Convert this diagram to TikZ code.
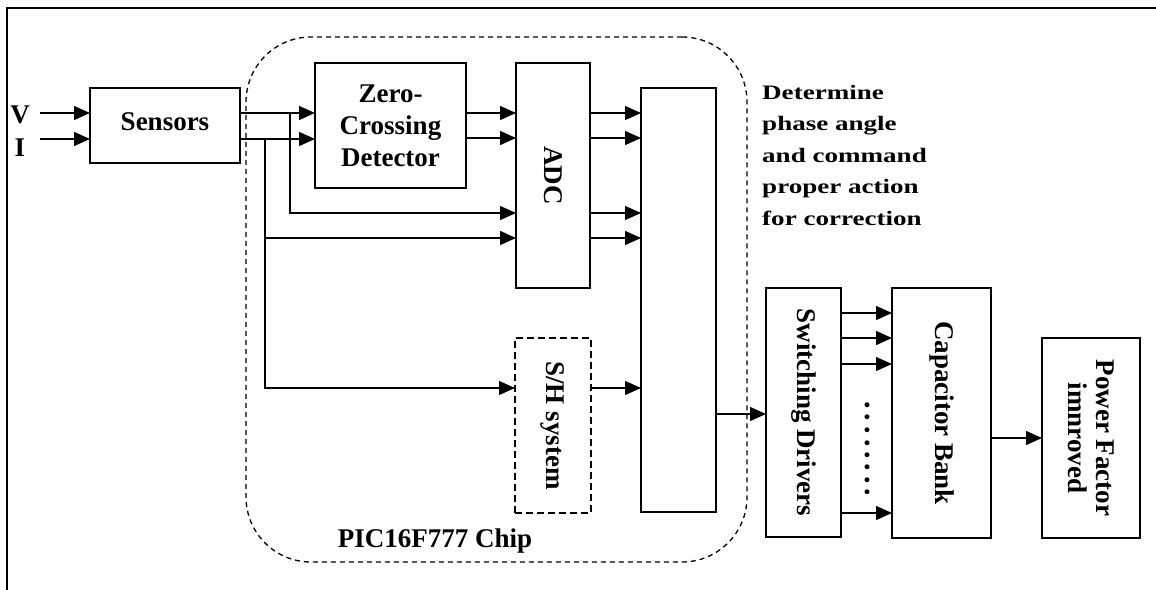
\documentclass[tikz,border=0pt]{standalone}
\usepackage{fontspec}
\setmainfont{Liberation Serif}
\newfontfamily\detfont{Liberation Serif}[FakeStretch=1.32]
\usetikzlibrary{arrows.meta}
\newcommand{\txtfont}{\fontsize{27}{32}\selectfont\bfseries}
\newcommand{\dtfont}{\detfont\fontsize{20.5}{31.5}\selectfont\bfseries}
\begin{document}
\begin{tikzpicture}[x=1pt,y=-1pt,
  box/.style={draw, line width=1.4pt, inner sep=0pt, outer sep=0pt, align=center, font=\txtfont},
  dbox/.style={box, dash pattern=on 7pt off 4pt, line width=2pt},
  rot/.style={rotate=-90, inner sep=0pt, align=center, font=\txtfont},
  lbl/.style={inner sep=0pt, font=\txtfont},
  arr/.style={line width=1.4pt, -{Triangle[length=16pt,width=14pt]}},
  ln/.style={line width=1.4pt},
  chip/.style={draw, line width=1.3pt, dash pattern=on 5pt off 4pt, rounded corners=65pt, inner sep=0pt, outer sep=0pt}
]
\useasboundingbox (0,0) rectangle (1156,589);
% frame
\draw[line width=2.4pt] (7,600) -- (7,8) -- (1170,8);
% chip outline
\node[chip, minimum width=501pt, minimum height=525pt] (chip) at (496.5,299.5) {};
\node[lbl] (chiplbl) at (435,541) {PIC16F777 Chip};
% blocks
\node[box, minimum width=150pt, minimum height=75pt] (sens) at (165,125.5) {\raisebox{7pt}{Sensors}};
\node[box, minimum width=151pt, minimum height=125pt] (zcd) at (390.5,125.5) {Zero-\\Crossing\\Detector};
\node[box, minimum width=74pt, minimum height=225pt] (adc) at (553,175.5) {};
\node[rot] (adct) at (adc) {ADC};
\node[box, minimum width=75pt, minimum height=424pt] (proc) at (678.5,300) {};
\node[dbox, minimum width=76pt, minimum height=175pt] (sh) at (553,425.5) {};
\node[rot] (sht) at (sh) {S/H system};
\node[box, minimum width=75pt, minimum height=249pt] (swd) at (803.5,412.5) {};
\node[rot] (swdt) at (swd) {Switching Drivers};
\node[box, minimum width=99pt, minimum height=250pt] (cap) at (941.5,413) {};
\node[rot] (capt) at (cap) {Capacitor Bank};
\node[box, minimum width=98pt, minimum height=200pt] (pf) at (1091,438) {};
\node[rot, font=\fontsize{27}{28}\selectfont\bfseries] (pft) at (pf) {Power Factor\\imnroved};
% text
\node[inner sep=0pt, font=\dtfont, anchor=west, align=left] (det) at (762,155) {Determine\\phase angle\\and command\\proper action\\for correction};
\node[lbl] (vl) at (20,115) {V};
\node[lbl] (il) at (20,148) {I};
\coordinate (vin) at (40,113);
\coordinate (iin) at (40,139);
\node[rot, font=\fontsize{30}{32}\selectfont\bfseries] (dots) at (867,449) {.\hspace{5pt}.\hspace{5pt}.\hspace{5pt}.\hspace{5pt}.\hspace{5pt}.\hspace{5pt}.\hspace{5pt}.};
% inputs
\draw[arr] (vin) -- (sens.west |- vin);
\draw[arr] (iin) -- (sens.west |- iin);
% sensors to zcd
\draw[arr] (sens.east |- 0,113) -- (zcd.west |- 0,113);
\draw[arr] (sens.east |- 0,139) -- (zcd.west |- 0,139);
% branches
\coordinate (b1) at (290,113);
\coordinate (b2) at (265,139);
\draw[arr] (b1) -- (290,213) -- (adc.west |- 0,213);
\draw[ln] (b2) -- (265,238);
\draw[arr] (265,238) -- (adc.west |- 0,238);
\draw[line width=2.6pt] (265,237) -- (265,389);
\draw[arr] (265,388) -- (sh.west |- 0,388);
% zcd to adc
\draw[arr] (zcd.east |- 0,113) -- (adc.west |- 0,113);
\draw[arr] (zcd.east |- 0,138) -- (adc.west |- 0,138);
% adc to proc
\foreach \yy in {113,138,213,238} \draw[arr] (adc.east |- 0,\yy) -- (proc.west |- 0,\yy);
% sh to proc
\draw[arr] (sh.east |- 0,388) -- (proc.west |- 0,388);
% proc to swd
\draw[arr] (proc.east |- 0,414) -- (swd.west |- 0,414);
% swd to cap
\foreach \yy in {313,338,364,513} \draw[arr] (swd.east |- 0,\yy) -- (cap.west |- 0,\yy);
% cap to pf
\draw[arr] (cap.east |- 0,438) -- (pf.west |- 0,438);
\end{tikzpicture}
\end{document}
